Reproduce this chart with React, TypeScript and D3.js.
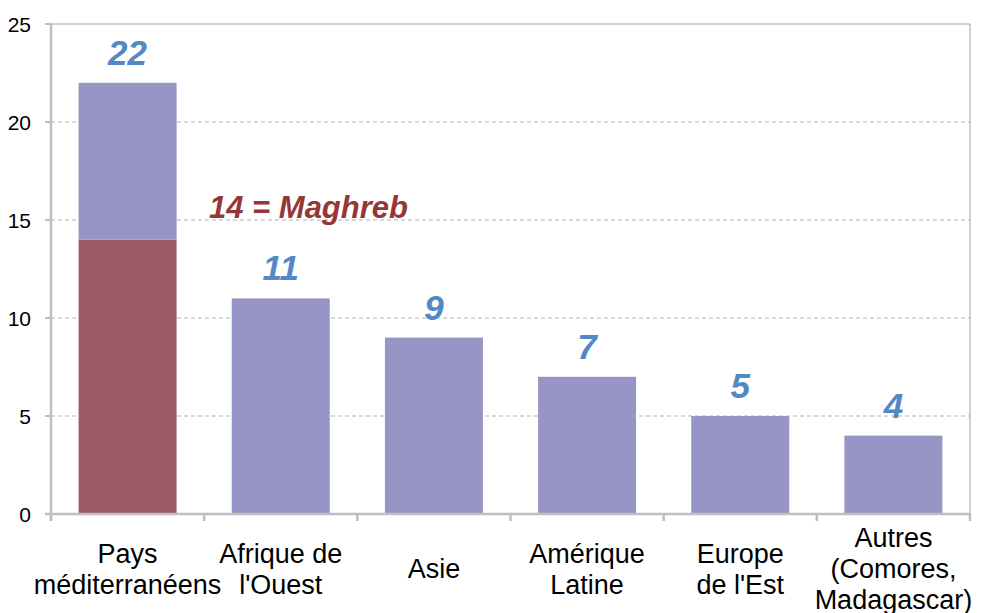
import React from "react";
import * as d3 from "d3";

const categories: string[][] = [
  ["Pays", "méditerranéens"],
  ["Afrique de", "l'Ouest"],
  ["Asie"],
  ["Amérique", "Latine"],
  ["Europe", "de l'Est"],
  ["Autres", "(Comores,", "Madagascar)"],
];
const catKeys = ["med", "ao", "asie", "al", "ee", "autres"];
const maghrebValues = [14, 0, 0, 0, 0, 0];
const otherValues = [8, 11, 9, 7, 5, 4];
const totals = [22, 11, 9, 7, 5, 4];
const yTicks = [0, 5, 10, 15, 20, 25];
const annotation = "14 = Maghreb";

const W = 982;
const H = 613;
const left = 51;
const right = 970;
const top = 24;
const bottom = 514;

export default function App() {
  const x = d3
    .scaleBand<string>()
    .domain(catKeys)
    .range([left, right])
    .paddingInner(0.36)
    .paddingOuter(0.18);
  const y = d3.scaleLinear().domain([0, 25]).range([bottom, top]);
  const step = x.step();
  const stacked = d3.stack<any>().keys(["maghreb", "other"])(
    catKeys.map((k, i) => ({ key: k, maghreb: maghrebValues[i], other: otherValues[i] }))
  );
  const colors: Record<string, string> = { maghreb: "#9C5A64", other: "#9795C5" };
  const gridCol = "#BFBFBF";
  const font = "'Liberation Sans', Arial, sans-serif";

  return (
    <svg
      width={W}
      height={H}
      style={{ position: "absolute", left: 0, top: 0, background: "#fff" }}
      fontFamily={font}
    >
      {yTicks.filter((t) => t > 0 && t < 25).map((t) => (
        <line key={t} x1={left} x2={right} y1={y(t)} y2={y(t)} stroke="#B4B4B4" strokeWidth={1.2} strokeDasharray="4,3" />
      ))}
      <line x1={left} x2={right} y1={y(25)} y2={y(25)} stroke={gridCol} strokeWidth={1.5} />
      <line x1={right} x2={right} y1={y(25)} y2={y(0)} stroke={gridCol} strokeWidth={1.5} />
      {stacked.map((s) =>
        s.map((d, i) =>
          d[1] - d[0] > 0 ? (
            <rect
              key={s.key + i}
              x={x(catKeys[i])}
              width={x.bandwidth()}
              y={y(d[1])}
              height={y(d[0]) - y(d[1])}
              fill={colors[s.key]}
            />
          ) : null
        )
      )}
      <line x1={left} x2={left} y1={y(25)} y2={y(0) + 7} stroke={gridCol} strokeWidth={2.5} />
      <line x1={left - 6} x2={right} y1={y(0)} y2={y(0)} stroke={gridCol} strokeWidth={2.5} />
      {yTicks.map((t) => (
        <g key={t}>
          <line x1={left - 6} x2={left} y1={y(t)} y2={y(t)} stroke={gridCol} strokeWidth={2} />
          <text x={31} y={y(t)} textAnchor="end" dominantBaseline="central" fontSize={21} fill="#000">
            {t}
          </text>
        </g>
      ))}
      {d3.range(catKeys.length + 1).map((i) => (
        <line key={i} x1={left + i * step} x2={left + i * step} y1={y(0)} y2={y(0) + 7} stroke={gridCol} strokeWidth={2.5} />
      ))}
      {categories.map((lines, i) => {
        const cx = (x(catKeys[i]) as number) + x.bandwidth() / 2;
        const lh = 31;
        const base = 578 - ((lines.length - 1) * lh) / 2;
        return (
          <text key={i} textAnchor="middle" fontSize={27} fill="#000">
            {lines.map((l, j) => (
              <tspan key={j} x={cx} y={base + j * lh}>
                {l}
              </tspan>
            ))}
          </text>
        );
      })}
      {totals.map((v, i) => (
        <text
          key={i}
          x={(x(catKeys[i]) as number) + x.bandwidth() / 2}
          y={y(v) - 18}
          textAnchor="middle"
          fontSize={35}
          fontWeight="bold"
          fontStyle="italic"
          fill="#5388C6"
        >
          {v}
        </text>
      ))}
      <text x={209} y={218} fontSize={31} fontWeight="bold" fontStyle="italic" fill="#953735">
        {annotation}
      </text>
    </svg>
  );
}
